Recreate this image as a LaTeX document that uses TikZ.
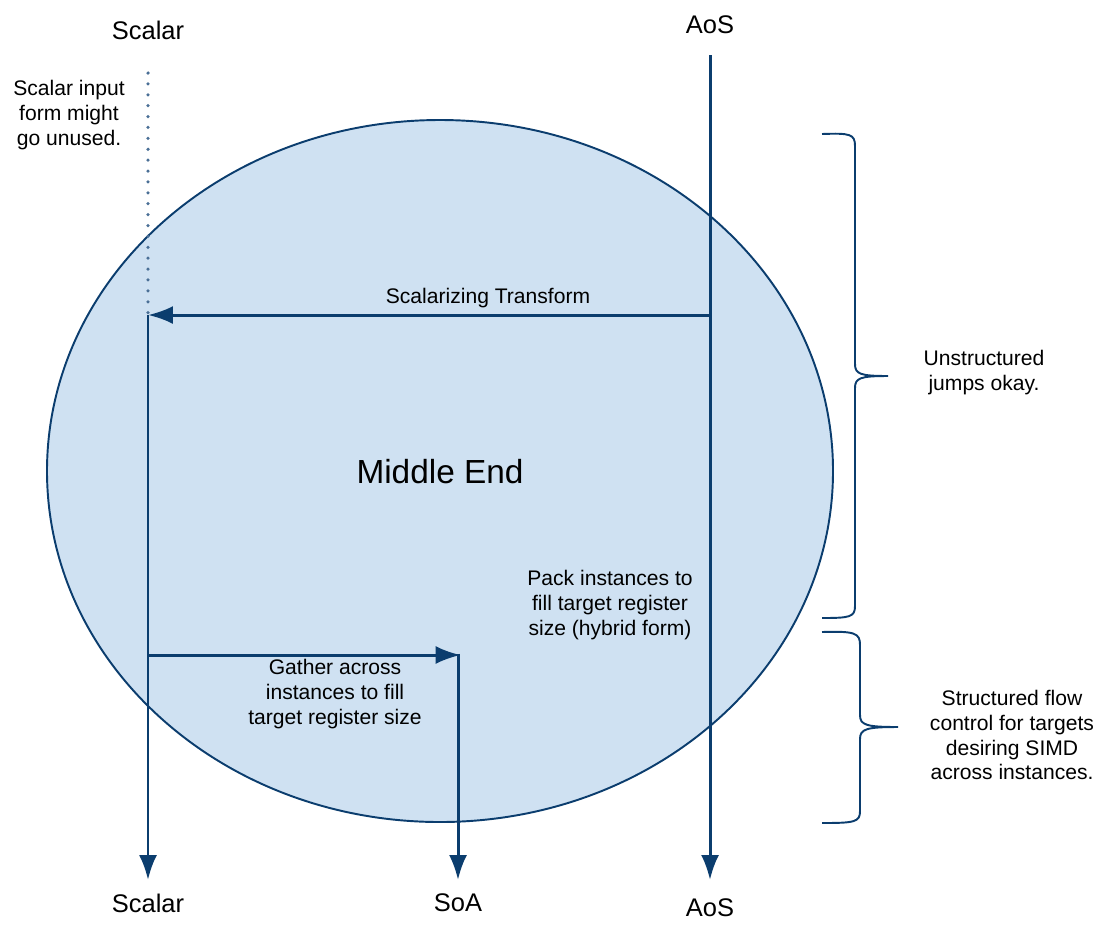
\documentclass[tikz,border=0pt]{standalone}
\usepackage{fontspec}
\setmainfont{Liberation Sans}
\usetikzlibrary{arrows.meta}
\definecolor{flowblue}{HTML}{0B3D6E}
\definecolor{mefill}{HTML}{CFE1F2}
\definecolor{dotblue}{HTML}{4A6F96}
\tikzstyle{lbl}=[font=\fontsize{14.5}{17}\selectfont,inner sep=0pt]
\tikzstyle{note}=[font=\fontsize{12}{14.2}\selectfont,align=center,inner sep=0pt]
\tikzstyle{flow} = [draw=flowblue,line width=1.7pt,-{Latex[length=0.5cm,width=0.36cm]}]
\tikzstyle{dots} = [draw=dotblue,line width=2pt,line cap=round,dash pattern=on 0pt off 6.2pt]
\tikzstyle{brc} = [draw=flowblue,line width=1.1pt]

\begin{document}
\begin{tikzpicture}[x=0.02cm,y=-0.02cm]
        \useasboundingbox (0,0) rectangle (1097,924);
        % middle end
        \draw[fill=mefill,draw=flowblue,line width=1.1pt] (440,471) ellipse [x radius=393,y radius=351];
        \node[font=\fontsize{19}{22}\selectfont,inner sep=0pt] (me) at (440,472) {Middle End};
        % labels
        \node[lbl] (scin) at (148,30) {Scalar};
        \node[lbl] (aosin) at (710,25) {AoS};
        \node[lbl] (scout) at (148,903) {Scalar};
        \node[lbl] (soaout) at (458,903) {SoA};
        \node[lbl] (aosout) at (710,908) {AoS};
        % junctions
        \coordinate (dtop) at (148,73);
        \coordinate (sj) at (148,315);
        \coordinate (aj) at (710,315);
        \coordinate (atop) at (710,55);
        \coordinate (gj) at (148,655);
        \coordinate (gk) at (458,655);
        \coordinate (scend) at (148,880);
        \coordinate (soaend) at (458,880);
        \coordinate (aosend) at (710,880);
        \draw[dots] (dtop) to (sj);
        \draw[flow] (atop) to (aosend);
        \draw[flow] (aj) to (sj);
        \draw[flow] (sj) to (scend);
        \draw[flow] (gj) to ([xshift=1.5pt]gk);
        \draw[flow] ([yshift=0.8pt]gk) to (soaend);
        % texts
        \node[note] (scal) at (488,298) {Scalarizing Transform};
        \node[note] (gath) at (335,694) {Gather across\\instances to fill\\target register size};
        \node[note] (pack) at (610,605) {Pack instances to\\fill target register\\size (hybrid form)};
        \node[note] (unused) at (69,115) {Scalar input\\form might\\go unused.};
        % braces
        \draw[brc] (822,134) .. controls (850,133) and (855,134) .. (855,146) -- (855,364)
                   .. controls (855,374) and (860,376) .. (888,376)
                   .. controls (860,376) and (855,378) .. (855,388) -- (855,606)
                   .. controls (855,617) and (850,618) .. (822,618);
        \draw[brc] (822,632) .. controls (855,631) and (860,633) .. (860,645) -- (860,715)
                   .. controls (860,725) and (866,727) .. (898,727)
                   .. controls (866,727) and (860,729) .. (860,739) -- (860,811)
                   .. controls (860,822) and (855,823) .. (822,823);
        \node[note] (unstr) at (984,373) {Unstructured\\jumps okay.};
        \node[note] (struc) at (1012,735) {Structured flow\\control for targets\\desiring SIMD\\across instances.};
      \end{tikzpicture}
\end{document}
